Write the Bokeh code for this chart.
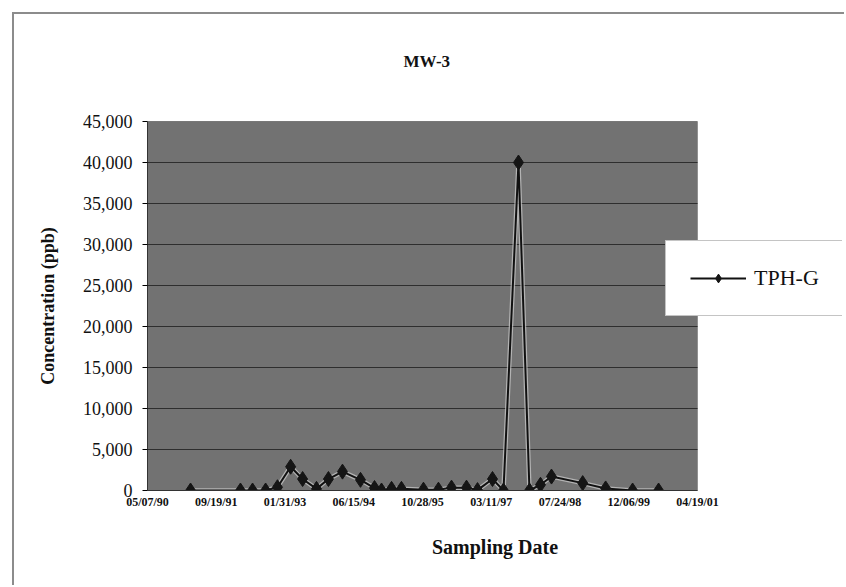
from datetime import datetime
from bokeh.plotting import figure
from bokeh.models import (Range1d, FixedTicker, DatetimeTickFormatter, NumeralTickFormatter,
                          Legend, LegendItem, BoxAnnotation)
from bokeh.embed import file_html
from bokeh.resources import INLINE

# ---- data ----
sample_dates = ["1991-03-16", "1992-03-13", "1992-06-09", "1992-09-12", "1992-12-07",
                "1993-03-13", "1993-06-08", "1993-09-17", "1993-12-13", "1994-03-25",
                "1994-08-03", "1994-11-13", "1995-01-03", "1995-03-17", "1995-05-28",
                "1995-11-04", "1996-02-21", "1996-05-26", "1996-09-12", "1996-12-01",
                "1997-03-20", "1997-06-08", "1997-09-25", "1997-12-14", "1998-03-04",
                "1998-05-23", "1999-01-05", "1999-06-21", "2000-01-03", "2000-07-10"]
tph_g = [0, 0, 0, 0, 400,
         2900, 1400, 200, 1400, 2300,
         1300, 300, 0, 200, 200,
         100, 100, 350, 350, 50,
         1400, 0, 40000, 0, 700,
         1700, 900, 250, 0, 0]
x_tick_labels = ["05/07/90", "09/19/91", "01/31/93", "06/15/94", "10/28/95",
                 "03/11/97", "07/24/98", "12/06/99", "04/19/01"]
y_ticks = [0, 5000, 10000, 15000, 20000, 25000, 30000, 35000, 40000, 45000]

dates = [datetime.strptime(d, "%Y-%m-%d") for d in sample_dates]
tick_dates = [datetime.strptime(t, "%m/%d/%y") for t in x_tick_labels]
epoch = datetime(1970, 1, 1)
tick_ms = [(t - epoch).total_seconds() * 1000 for t in tick_dates]

x_start, x_end = tick_dates[0], tick_dates[-1]
# frame extends right (under the legend) beyond the plot area
view_end = x_start + (x_end - x_start) * (695 / 550)

SERIF = "Liberation Serif"

p = figure(width=832, height=573, x_axis_type="datetime", output_backend="svg",
           toolbar_location=None,
           x_range=Range1d(x_start, view_end),
           y_range=Range1d(0, 45000),
           min_border_left=133, min_border_right=4, min_border_top=107, min_border_bottom=97)
p.margin = (12, 0, 0, 12)
p.styles = {"border-left": "2px solid #8c8c8c", "border-top": "2px solid #8c8c8c"}

p.title.text = "MW-3\n "
p.title.text_font = SERIF
p.title.text_font_style = "bold"
p.title.text_font_size = "17px"
p.title.text_color = "#111111"
p.title.align = "left"
p.title.offset = 256
p.title.standoff = 64

p.background_fill_color = "white"
p.border_fill_color = "white"
p.outline_line_color = None
p.xgrid.visible = False
p.ygrid.visible = False

# gray plot area
plot_area = BoxAnnotation(left=x_start, right=x_end, bottom=0, top=45000,
                          fill_color="#727272", fill_alpha=1,
                          line_color="#3a3a3a", line_width=1, level="image")
p.add_layout(plot_area)

# horizontal gridlines across the plot area
p.segment(x0=[x_start] * len(y_ticks), y0=y_ticks, x1=[x_end] * len(y_ticks), y1=y_ticks,
          line_color="#2e2e2e", line_width=1)

p.xaxis.ticker = FixedTicker(ticks=tick_ms)
p.xaxis.bounds = (x_start, x_end)
p.xaxis.formatter = DatetimeTickFormatter(days="%m/%d/%y", months="%m/%d/%y", years="%m/%d/%y")
p.xaxis.major_label_text_font = SERIF
p.xaxis.major_label_text_font_style = "bold"
p.xaxis.major_label_text_font_size = "12px"
p.xaxis.major_label_text_color = "#111111"
p.xaxis.axis_label = "Sampling Date"
p.xaxis.axis_label_text_font = SERIF
p.xaxis.axis_label_text_font_style = "bold"
p.xaxis.axis_label_text_font_size = "20px"
p.xaxis.axis_label_text_color = "#111111"
p.xaxis.axis_label_standoff = 24
p.xaxis.major_label_standoff = 4
p.xaxis.minor_tick_line_color = None
p.xaxis.major_tick_out = 0
p.xaxis.major_tick_in = 0
p.xaxis.axis_line_color = "#333333"

p.yaxis.ticker = FixedTicker(ticks=y_ticks)
p.yaxis.formatter = NumeralTickFormatter(format="0,0")
p.yaxis.major_label_text_font = SERIF
p.yaxis.major_label_text_font_size = "18px"
p.yaxis.major_label_text_color = "#111111"
p.yaxis.axis_label = "Concentration (ppb)"
p.yaxis.axis_label_text_font = SERIF
p.yaxis.axis_label_text_font_style = "bold"
p.yaxis.axis_label_text_font_size = "18px"
p.yaxis.axis_label_text_color = "#111111"
p.yaxis.axis_label_standoff = 22
p.yaxis.major_label_standoff = 10
p.yaxis.minor_tick_line_color = None
p.yaxis.major_tick_out = 5
p.yaxis.major_tick_in = 0
p.yaxis.axis_line_color = "#333333"

# halo under the series line
p.line(dates, tph_g, line_color="#cfcfcf", line_width=4.5, line_alpha=0.7)
r_line = p.line(dates, tph_g, line_color="#111111", line_width=2)
r_pts = p.scatter(dates, tph_g, marker="diamond", size=15, fill_color="#151515",
                  line_color="#151515")

legend = Legend(items=[LegendItem(label="TPH-G", renderers=[r_line, r_pts])],
                location=(518, 174), orientation="vertical",
                label_text_font=SERIF, label_text_font_size="22px", label_text_color="#111111",
                border_line_color="#8a8a8a", border_line_width=1.5,
                background_fill_color="white", background_fill_alpha=1,
                padding=24, glyph_width=56, glyph_height=22, label_height=22,
                label_standoff=8, spacing=0, margin=0)
p.add_layout(legend, "center")

open("out.html", "w").write(file_html(p, INLINE))
